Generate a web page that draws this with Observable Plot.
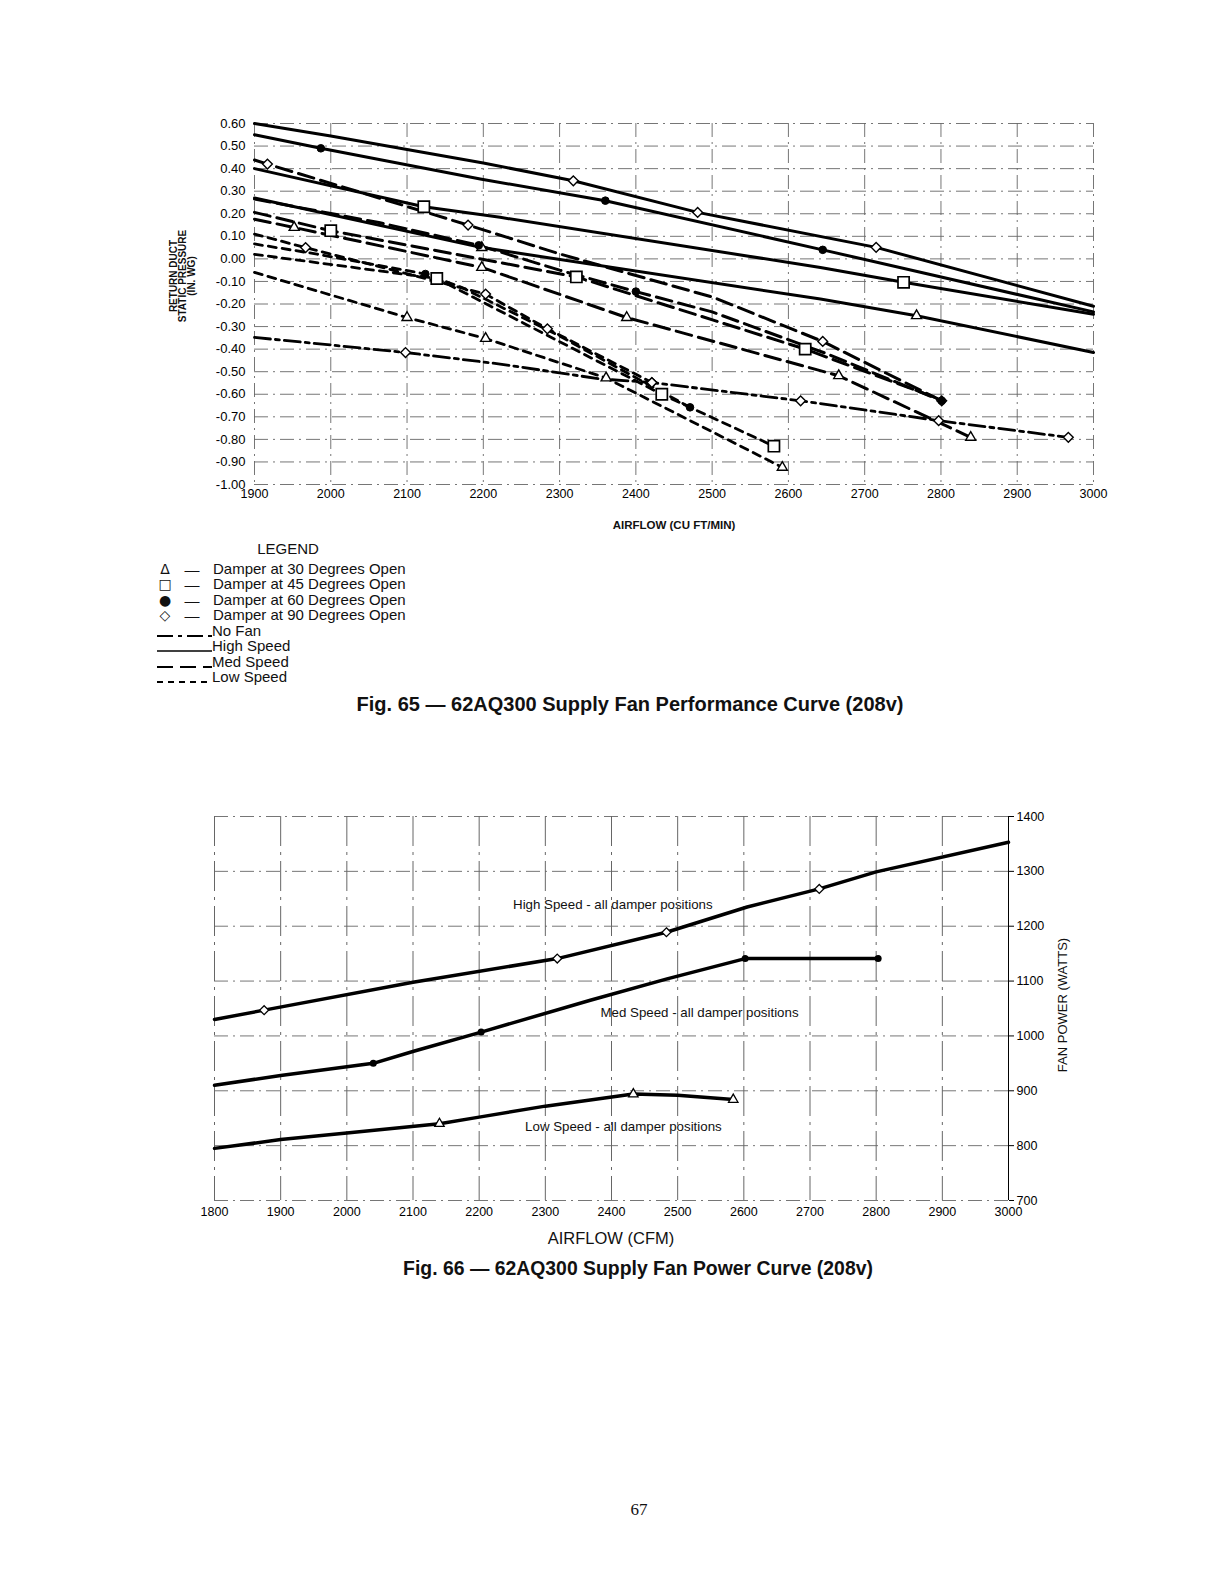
<!DOCTYPE html>
<html><head><meta charset="utf-8">
<script src="https://cdn.jsdelivr.net/npm/d3@7"></script>
<script src="https://cdn.jsdelivr.net/npm/@observablehq/plot@0.6"></script>
<style>
body{margin:0;background:#fff;}
#page{position:relative;width:1220px;height:1584px;font-family:"Liberation Sans",Arial,Helvetica,sans-serif;color:#111;overflow:hidden;}
.abs{position:absolute;white-space:nowrap;line-height:1;}
.c{transform:translate(-50%,-50%);}
.chart{position:absolute;left:0;}
</style></head><body><div id="page"></div>
<script>
// ---------- Fig. 65 data (airflow cfm, static pressure in. wg) ----------
const xTicks1 = [1900,2000,2100,2200,2300,2400,2500,2600,2700,2800,2900,3000];
const yTicks1 = [0.6,0.5,0.4,0.3,0.2,0.1,0,-0.1,-0.2,-0.3,-0.4,-0.5,-0.6,-0.7,-0.8,-0.9,-1.0];

const high90 = [[1900,0.60],[2000,0.545],[2200,0.425],[2318,0.346],[2481,0.206],[2715,0.051],[3000,-0.21]];
const high60 = [[1900,0.55],[1987,0.49],[2196,0.354],[2360,0.258],[2645,0.04],[3000,-0.235]];
const high45 = [[1900,0.40],[2122,0.231],[2222,0.184],[2642,-0.038],[2751,-0.104],[3000,-0.245]];
const high30 = [[1900,0.27],[2198,0.05],[2642,-0.178],[2768,-0.252],[3000,-0.415]];
const med90 = [[1900,0.438],[1917,0.42],[2180,0.15],[2301,0.021],[2502,-0.171],[2645,-0.366],[2801,-0.629]];
const med60 = [[1900,0.265],[2063,0.161],[2194,0.06],[2300,-0.05],[2400,-0.145],[2500,-0.235],[2650,-0.42],[2801,-0.629]];
const med45 = [[1900,0.206],[2000,0.125],[2322,-0.08],[2622,-0.40],[2801,-0.625]];
const med30 = [[1900,0.176],[1952,0.139],[2198,-0.038],[2388,-0.26],[2666,-0.518],[2839,-0.791]];
const low90 = [[1900,0.11],[1967,0.05],[2203,-0.156],[2284,-0.31],[2421,-0.548]];
const low60 = [[1900,0.066],[1982,0.021],[2124,-0.067],[2172,-0.127],[2299,-0.34],[2471,-0.658]];
const low45 = [[1900,0.02],[2139,-0.087],[2434,-0.60],[2581,-0.83]];
const low30 = [[1900,-0.06],[2100,-0.26],[2203,-0.353],[2361,-0.528],[2592,-0.924]];
const noFan = [[1900,-0.348],[2098,-0.415],[2222,-0.466],[2353,-0.532],[2421,-0.548],[2616,-0.629],[2797,-0.717],[2967,-0.791]];

// marker positions (airflow values of the curve vertices that carry a symbol)
const high90Marks = [2318,2481,2715];
const high60Marks = [1987,2360,2645];
const high45Marks = [2122,2751];
const high30Marks = [2198,2768];
const med90Marks = [1917,2180,2645,2801];
const med60Marks = [2194,2400,2801];
const med45Marks = [2000,2322,2622];
const med30Marks = [1952,2198,2388,2666,2839];
const low90Marks = [1967,2203,2284,2421];
const low60Marks = [2124,2471];
const low45Marks = [2139,2434,2581];
const low30Marks = [2100,2203,2361,2592];
const noFanMarks = [2098,2421,2616,2797,2967];

// ---------- Fig. 66 data (airflow cfm, fan power watts) ----------
const xTicks2 = [1800,1900,2000,2100,2200,2300,2400,2500,2600,2700,2800,2900,3000];
const yTicks2 = [700,800,900,1000,1100,1200,1300,1400];
const powerHigh = [[1800,1030],[1875,1047],[2100,1098],[2318,1141],[2483,1189],[2605,1235],[2714,1268],[2800,1299],[3000,1353]];
const powerMed = [[1800,910],[1900,928],[2040,950],[2101,972],[2203,1007],[2368,1065],[2484,1104],[2602,1141],[2803,1141]];
const powerLow = [[1800,795],[1900,811],[2000,823],[2140,840],[2200,852],[2300,872],[2433,894],[2500,892],[2584,884]];
const powerHighMarks = [1875,2318,2483,2714];
const powerMedMarks = [2040,2203,2602,2803];
const powerLowMarks = [2140,2433,2584];
const powerLabels = [
  {text:"High Speed - all damper positions", x:2402, y:1240},
  {text:"Med Speed - all damper positions", x:2533, y:1043},
  {text:"Low Speed - all damper positions", x:2418, y:835}
];

// ---------- helpers ----------
const pick = (curve, marks) => marks.map(m => curve.find(d => d[0] === m));
const X = d => d[0], Y = d => d[1];
const styles = {
  high:{stroke:"#000", strokeWidth:3},
  med:{stroke:"#000", strokeWidth:3, strokeDasharray:"16,7"},
  low:{stroke:"#000", strokeWidth:2.8, strokeDasharray:"8,6"},
  nofan:{stroke:"#000", strokeWidth:2.8, strokeDasharray:"16,5,4,5"}
};
const sym = {
  tri:{symbol:"triangle2", r:4.8, fill:"white", stroke:"#000", strokeWidth:1.4},
  sq:{symbol:"square", r:6.3, fill:"white", stroke:"#000", strokeWidth:1.7},
  dot:{symbol:"circle", r:3.8, fill:"#000", stroke:"#000", strokeWidth:1},
  dia:{symbol:"diamond2", r:4.4, fill:"white", stroke:"#000", strokeWidth:1.4}
};
const grid = {stroke:"#666", strokeWidth:0.9, strokeDasharray:"14,5,2,5"};

const curves1 = [
  [high90,"high",high90Marks,"dia"],[high60,"high",high60Marks,"dot"],[high45,"high",high45Marks,"sq"],[high30,"high",high30Marks,"tri"],
  [med90,"med",med90Marks,"dia"],[med60,"med",med60Marks,"dot"],[med45,"med",med45Marks,"sq"],[med30,"med",med30Marks,"tri"],
  [low90,"low",low90Marks,"dia"],[low60,"low",low60Marks,"dot"],[low45,"low",low45Marks,"sq"],[low30,"low",low30Marks,"tri"],
  [noFan,"nofan",noFanMarks,"dia"]
];

const marks1 = [
  Plot.ruleX(xTicks1, grid),
  Plot.ruleY(yTicks1, grid),
  Plot.axisY(yTicks1, {tickSize:0, tickPadding:9, tickFormat:d => d.toFixed(2), label:null, fontSize:13}),
  Plot.axisX(xTicks1, {tickSize:0, tickPadding:5, tickFormat:d => String(d), label:null})
];
for (const [c, s] of curves1) marks1.push(Plot.line(c, {x:X, y:Y, ...styles[s]}));
for (const [c, s, m, k] of curves1) marks1.push(Plot.dot(pick(c, m), {x:X, y:Y, ...sym[k]}));

const plot1 = Plot.plot({
  width:1220, height:510, marginLeft:254, marginRight:127, marginTop:123, marginBottom:26,
  x:{domain:[1900,3000]}, y:{domain:[-1,0.6]},
  style:{fontFamily:"Liberation Sans, Arial, sans-serif", fontSize:"12.5px", color:"#000", background:"transparent", overflow:"visible"},
  marks:marks1
});

const marks2 = [
  Plot.ruleX(xTicks2.filter(d => d < 3000), {stroke:"#555", strokeWidth:0.9, strokeDasharray:"30,6,3,6"}),
  Plot.ruleY(yTicks2, grid),
  Plot.ruleX([3000], {stroke:"#000", strokeWidth:1}),
  Plot.axisY(yTicks2, {anchor:"right", tickSize:5, tickPadding:3, tickFormat:d => String(d), label:null}),
  Plot.axisX(xTicks2, {tickSize:0, tickPadding:7, tickFormat:d => String(d), label:null}),
  Plot.line(powerHigh, {x:X, y:Y, stroke:"#000", strokeWidth:3.5}),
  Plot.line(powerMed, {x:X, y:Y, stroke:"#000", strokeWidth:3.5}),
  Plot.line(powerLow, {x:X, y:Y, stroke:"#000", strokeWidth:3.5}),
  Plot.dot(pick(powerHigh, powerHighMarks), {x:X, y:Y, symbol:"diamond2", r:4, fill:"white", stroke:"#000", strokeWidth:1.3}),
  Plot.dot(pick(powerMed, powerMedMarks), {x:X, y:Y, symbol:"circle", r:3.5, fill:"#000"}),
  Plot.dot(pick(powerLow, powerLowMarks), {x:X, y:Y, symbol:"triangle2", r:4.5, fill:"white", stroke:"#000", strokeWidth:1.3}),
  Plot.text(powerLabels, {x:"x", y:"y", text:"text", fontSize:13.3, fill:"#111"})
];
const plot2 = Plot.plot({
  width:1220, height:448, marginLeft:214, marginRight:212, marginTop:36, marginBottom:28,
  x:{domain:[1800,3000]}, y:{domain:[700,1400]},
  style:{fontFamily:"Liberation Sans, Arial, sans-serif", fontSize:"12.5px", color:"#000", background:"transparent", overflow:"visible"},
  marks:marks2
});

const page = document.getElementById("page");
function chart(node, top){ const d=document.createElement("div"); d.className="chart"; d.style.top=top+"px"; d.appendChild(node); page.appendChild(d); }
chart(plot1, 0);
chart(plot2, 780);

function txt(html, cx, cy, css, center=true){
  const d=document.createElement("div");
  d.className="abs"+(center?" c":"");
  d.style.left=cx+"px"; d.style.top=cy+"px";
  d.style.cssText+=css||"";
  d.innerHTML=html; page.appendChild(d); return d;
}
// Fig 65 texts
txt("AIRFLOW (CU FT/MIN)", 674, 526, "font-size:11.5px;font-weight:bold;");
txt("RETURN DUCT<br>STATIC PRESSURE<br>(IN. WG)", 182, 276,
  "font-size:10px;font-weight:bold;text-align:center;line-height:9px;transform:translate(-50%,-50%) rotate(-90deg);");
txt("LEGEND", 288, 548, "font-size:15px;");
const legendSym = [["Δ","Damper at 30 Degrees Open"],["□","Damper at 45 Degrees Open"],["●","Damper at 60 Degrees Open"],["◇","Damper at 90 Degrees Open"]];
const legendLine = [["16,5,4,5","No Fan"],["","High Speed"],["16,7","Med Speed"],["6,5","Low Speed"]];
const rowY = [568.5,584,599.5,615,630.5,646,661.5,677];
legendSym.forEach(([s,t],i)=>{
  txt(s, 165, rowY[i], "font-size:14px;font-family:'DejaVu Sans',sans-serif;");
  txt("—", 192, rowY[i], "font-size:15px;");
  txt(t, 213, rowY[i]-8, "font-size:15px;", false);
});
legendLine.forEach(([dash,t],i)=>{
  const y=rowY[i+4];
  const d=document.createElement("div"); d.className="abs"; d.style.left="157px"; d.style.top=(y-4)+"px";
  d.innerHTML=`<svg width="56" height="8"><line x1="0" y1="4" x2="55" y2="4" stroke="#000" stroke-width="${dash?2.2:1.6}" ${dash?`stroke-dasharray="${dash}"`:""}/></svg>`;
  page.appendChild(d);
  txt(t, 212, y-8, "font-size:15px;", false);
});
txt("Fig. 65 — 62AQ300 Supply Fan Performance Curve (208v)", 630, 704, "font-size:20px;font-weight:bold;");
// Fig 66 texts
txt("AIRFLOW (CFM)", 611, 1238, "font-size:16.5px;");
txt("FAN POWER (WATTS)", 1062, 1005, "font-size:13px;transform:translate(-50%,-50%) rotate(-90deg);");
txt("Fig. 66 — 62AQ300 Supply Fan Power Curve (208v)", 638, 1269, "font-size:19.4px;font-weight:bold;");
txt("67", 639, 1509, "font-size:17px;font-family:'Liberation Serif','Times New Roman',serif;");
</script></body></html>
